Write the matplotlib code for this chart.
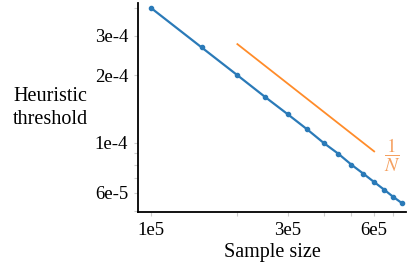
import matplotlib
matplotlib.use("Agg")
import matplotlib.pyplot as plt
from matplotlib.ticker import FixedLocator, NullFormatter, FixedFormatter

plt.rcParams['font.family'] = ['Liberation Serif', 'DejaVu Serif']
plt.rcParams['mathtext.fontset'] = 'stix'

# data
sample_size = [1.0e5, 1.5e5, 2.0e5, 2.5e5, 3.0e5, 3.5e5, 4.0e5, 4.5e5,
               5.0e5, 5.5e5, 6.0e5, 6.5e5, 7.0e5, 7.5e5]
threshold = [3.98e-4, 2.66e-4, 2.0e-4, 1.6e-4, 1.34e-4, 1.15e-4, 1.0e-4,
             0.895e-4, 0.80e-4, 0.73e-4, 0.67e-4, 0.62e-4, 0.575e-4, 0.54e-4]
ref_x = [2e5, 6e5]
ref_y = [2.75e-4, 0.917e-4]

xticks = [1e5, 3e5, 6e5]
xlabels = ["1e5", "3e5", "6e5"]
yticks = [6e-5, 1e-4, 2e-4, 3e-4]
ylabels = ["6e-5", "1e-4", "2e-4", "3e-4"]

fig = plt.figure(figsize=(4.12, 2.77), dpi=100)
ax = fig.add_axes([138/412, 1-212/277, (406-138)/412, (212-3)/277])

ax.plot(sample_size, threshold, color='#2a7ab8', lw=1.6, marker='o', ms=3)
ax.plot(ref_x, ref_y, color='#ff8c2a', lw=1.3)
ax.text(6.95e5, 0.88e-4, r"$\dfrac{1}{N}$", color='#f5a060', fontsize=14,
        ha='center', va='center')

ax.set_xscale('log')
ax.set_yscale('log')
ax.set_xlim(0.9e5, 7.75e5)
ax.set_ylim(0.493e-4, 4.19e-4)

ax.xaxis.set_major_locator(FixedLocator(xticks))
ax.xaxis.set_major_formatter(FixedFormatter(xlabels))
ax.xaxis.set_minor_locator(FixedLocator([2e5, 4e5, 5e5, 7e5]))
ax.xaxis.set_minor_formatter(NullFormatter())
ax.yaxis.set_major_locator(FixedLocator(yticks))
ax.yaxis.set_major_formatter(FixedFormatter(ylabels))
ax.yaxis.set_minor_locator(FixedLocator([5e-5, 7e-5, 8e-5, 9e-5, 4e-4]))
ax.yaxis.set_minor_formatter(NullFormatter())

ax.tick_params(which='both', length=3, width=0.8, color='#cccccc',
               labelsize=13.5, pad=4)
for s in ['top', 'right']:
    ax.spines[s].set_visible(False)
for s in ['left', 'bottom']:
    ax.spines[s].set_linewidth(1.3)

ax.set_xlabel("Sample size", fontsize=14.5, labelpad=3)
fig.text(50/412, 1-108/277, "Heuristic\nthreshold", fontsize=14.5,
         ha='center', va='center', linespacing=1.3)

fig.savefig("out.png", dpi=100)
